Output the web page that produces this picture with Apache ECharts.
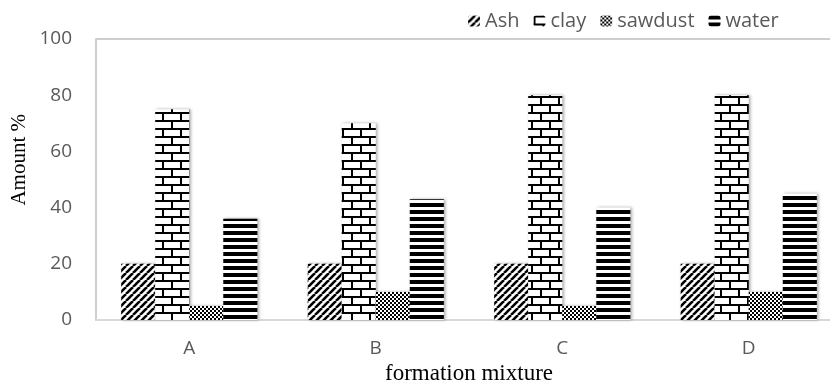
<!DOCTYPE html>
<html><head><meta charset="utf-8">
<script src="https://cdn.jsdelivr.net/npm/echarts@6/dist/echarts.min.js"></script>
<style>html,body{margin:0;padding:0;background:#fff}#c{width:830px;height:387px}</style>
</head><body><div id="c"></div>
<script>
const categories = ['A','B','C','D'];
const seriesNames = ['Ash','clay','sawdust','water'];
const ash = [20,20,20,20];
const clay = [75,70,80,80];
const sawdust = [5,10,5,10];
const water = [36,43,40,45];
const yTicks = [0,20,40,60,80,100];

function mk(w,h,draw){const c=document.createElement('canvas');c.width=w;c.height=h;const g=c.getContext('2d');g.fillStyle='#fff';g.fillRect(0,0,w,h);g.fillStyle='#000';g.strokeStyle='#000';draw(g);return {image:c,repeat:'repeat'};}
const pDiag = mk(7,7,g=>{g.lineWidth=2.6;for(const o of [-7,0,7]){g.beginPath();g.moveTo(o,7);g.lineTo(o+7,0);g.stroke();}});
const pBrick = mk(18,16,g=>{g.fillRect(0,0,18,2);g.fillRect(0,8,18,2);g.fillRect(0,0,2,8);g.fillRect(9,8,2,8);});
const pCheck = mk(4,4,g=>{g.fillRect(0,0,2,2);g.fillRect(2,2,2,2);});
const pHoriz = mk(4,7,g=>{g.fillRect(0,0,4,4);});
const patterns=[pDiag,pBrick,pCheck,pHoriz];
const data=[ash,clay,sawdust,water];

const chart=echarts.init(document.getElementById('c'));
chart.setOption({
  animation:false,
  backgroundColor:'#fff',
  legend:{top:6,left:463,itemWidth:12,itemHeight:11,itemGap:14,
    textStyle:{fontFamily:'Open Sans',fontSize:20,color:'#595959'},data:seriesNames},
  grid:{left:96,width:746,top:39,bottom:67,show:true,borderColor:'#bfbfbf',borderWidth:1.5,outerBoundsMode:'none',containLabel:false},
  xAxis:{type:'category',data:categories,
    axisLine:{lineStyle:{color:'#d9d9d9',width:2}},axisTick:{show:false},
    axisLabel:{fontFamily:'Open Sans',fontSize:19,color:'#595959',margin:19},
    name:'formation mixture',nameLocation:'middle',nameGap:40,
    nameTextStyle:{fontFamily:'Liberation Serif',fontSize:23,color:'#000'}},
  yAxis:{type:'value',min:0,max:100,interval:20,
    axisLine:{show:false},axisTick:{show:false},splitLine:{show:false},
    axisLabel:{fontFamily:'Open Sans',fontSize:19,color:'#595959',margin:24,
      formatter:v=>yTicks.includes(v)?String(v):''}},
  graphic:[{type:'text',left:9,top:114,rotation:Math.PI/2,
    style:{text:'Amount %',font:'21px "Liberation Serif"',fill:'#000'}}],
  series:seriesNames.map((n,i)=>({name:n,type:'bar',data:data[i],barGap:'0%',barCategoryGap:'27%',
    itemStyle:{color:patterns[i],shadowBlur:3,shadowColor:'rgba(0,0,0,0.35)',shadowOffsetX:1.5,shadowOffsetY:0}}))
});
</script></body></html>
